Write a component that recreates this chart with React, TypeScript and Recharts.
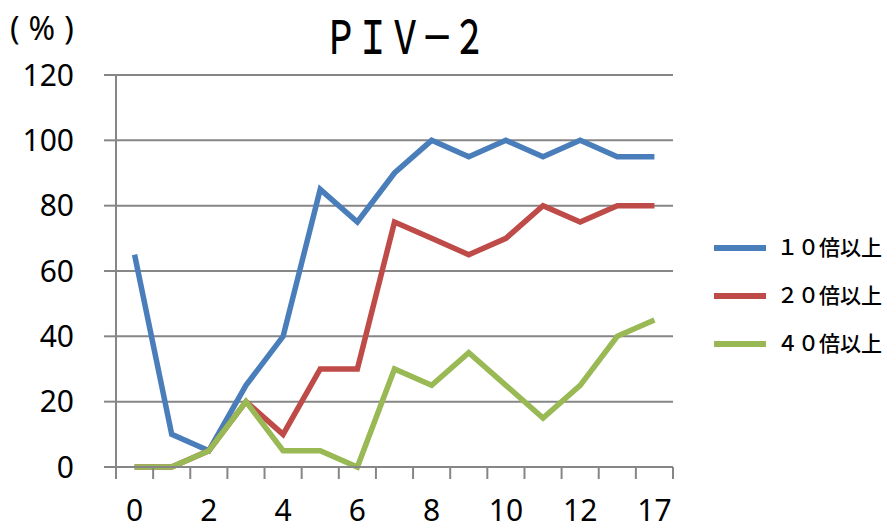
import { CartesianGrid, Line, LineChart, XAxis, YAxis } from "recharts";

// Reading-off values from the PIV-2 chart, one value per category.
const categories = ["0", "1", "2", "3", "4", "5", "6", "7", "8", "9", "10", "11", "12", "14", "17"];
const shownLabels = [0, 2, 4, 6, 8, 10, 12, 14];
const over10 = [65, 10, 5, 25, 40, 85, 75, 90, 100, 95, 100, 95, 100, 95, 95];
const over20 = [0, 0, 5, 20, 10, 30, 30, 75, 70, 65, 70, 80, 75, 80, 80];
const over40 = [0, 0, 5, 20, 5, 5, 0, 30, 25, 35, 25, 15, 25, 40, 45];
const yTicks = [0, 20, 40, 60, 80, 100, 120];

const series = [
  { key: "s10", name: "１０倍以上", color: "#4A7EBB", values: over10 },
  { key: "s20", name: "２０倍以上", color: "#BE4B48", values: over20 },
  { key: "s40", name: "４０倍以上", color: "#98B954", values: over40 },
];

const data = categories.map((c, i) => ({
  i,
  label: c,
  s10: over10[i],
  s20: over20[i],
  s40: over40[i],
}));

// integer ticks carry the labels, half-integer ticks are the category boundary marks
const xTicks: number[] = [];
for (let i = 0; i <= categories.length; i++) {
  xTicks.push(i - 0.5);
  if (i < categories.length) xTicks.push(i);
}

const GRID = "#868686";
const FONT = "'Noto Sans', 'Open Sans', sans-serif";
const CJK = "'Noto Sans CJK JP', sans-serif";

function XTick(props: any) {
  const { x, y, payload } = props;
  const v = payload.value as number;
  if (!Number.isInteger(v)) {
    return <line x1={x} x2={x} y1={y} y2={y + 12} stroke={GRID} strokeWidth={2} />;
  }
  if (!shownLabels.includes(v)) return null;
  return (
    <text x={x} y={y + 54} textAnchor="middle" fontSize={30} fontFamily={FONT} fill="#000">
      {categories[v]}
    </text>
  );
}

function LegendBox() {
  return (
    <div style={{ position: "absolute", left: 714, top: 222, fontFamily: CJK }}>
      {series.map((s) => (
        <div key={s.key} style={{ display: "flex", alignItems: "center", height: 48 }}>
          <div style={{ width: 52, height: 6, background: s.color, marginRight: 11, marginTop: 4 }} />
          <span style={{ fontSize: 21, fontWeight: 500, color: "#000" }}>{s.name}</span>
        </div>
      ))}
    </div>
  );
}

export default function App() {
  return (
    <div style={{ position: "absolute", left: 0, top: 0, width: 891, height: 531, background: "#fff" }}>
      <div
        style={{
          position: "absolute",
          left: 405,
          top: 6,
          fontFamily: CJK,
          fontSize: 46,
          fontWeight: 500,
          lineHeight: "56px",
          transform: "translateX(-50%) scaleX(0.7)",
          whiteSpace: "nowrap",
          color: "#000",
        }}
      >
        ＰＩＶ－２
      </div>
      <div
        style={{
          position: "absolute",
          left: 10,
          top: 8,
          fontFamily: FONT,
          fontSize: 32,
          lineHeight: "40px",
          letterSpacing: 9,
          color: "#000",
        }}
      >
        (%)
      </div>
      <LineChart
        width={891}
        height={531}
        data={data}
        margin={{ top: 75, right: 218, bottom: 0, left: 0 }}
      >
        <CartesianGrid horizontal vertical={false} stroke={GRID} strokeWidth={2} />
        <XAxis
          dataKey="i"
          type="number"
          domain={[-0.5, categories.length - 0.5]}
          ticks={xTicks}
          interval={0}
          height={64}
          tickSize={0}
          tickMargin={0}
          tickLine={false}
          axisLine={{ stroke: GRID, strokeWidth: 2 }}
          tick={<XTick />}
        />
        <YAxis
          domain={[0, 120]}
          ticks={yTicks}
          width={116}
          tickSize={12}
          tickMargin={30}
          tickLine={{ stroke: GRID, strokeWidth: 2 }}
          axisLine={{ stroke: GRID, strokeWidth: 2 }}
          tick={{ fontSize: 30, fill: "#000", fontFamily: FONT }}
        />
        {series.map((s) => (
          <Line
            key={s.key}
            dataKey={s.key}
            name={s.name}
            stroke={s.color}
            strokeWidth={5.5}
            dot={false}
            activeDot={false}
            isAnimationActive={false}
          />
        ))}
      </LineChart>
      <LegendBox />
    </div>
  );
}
